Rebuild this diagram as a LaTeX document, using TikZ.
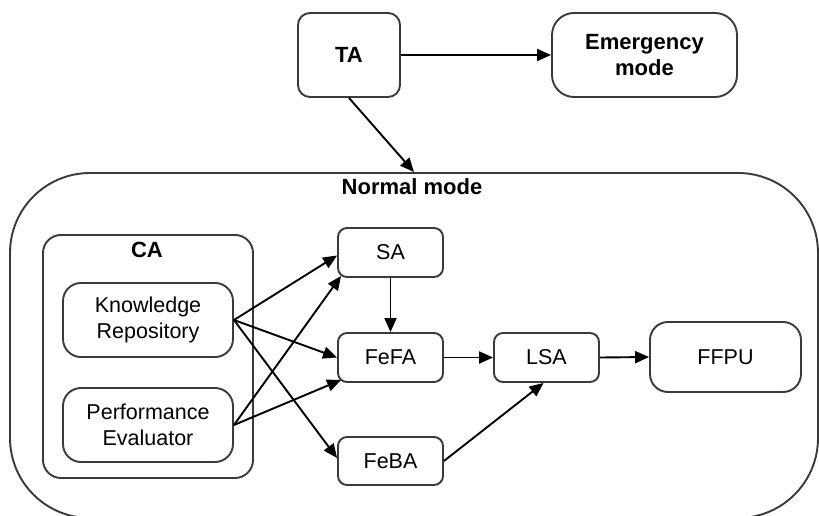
\documentclass[tikz,border=0pt]{standalone}
\usepackage{fontspec}
\setmainfont{Liberation Sans}
\usetikzlibrary{arrows.meta,calc}
\definecolor{boxgray}{HTML}{3A3A3A}
\begin{document}
\begin{tikzpicture}[x=1pt,y=-1pt,
  box/.style={draw=boxgray, line width=1.9pt, rounded corners=#1, inner sep=0pt,
              align=center, font=\fontsize{21.5}{26}\selectfont},
  box/.default=9pt,
  boldbox/.style={box=#1, font=\bfseries\fontsize{22}{26}\selectfont},
  lbl/.style={font=\bfseries\fontsize{22}{26}\selectfont, inner sep=0pt},
  link/.style={draw=black, line width=1.9pt, -{Triangle[length=14pt,width=12pt]}}]
\useasboundingbox (0,0) rectangle (819,516);
\begin{scope}
  \clip (0,0) rectangle (819,516);
  % outer container for the normal operating mode
  \node[box=80pt, minimum width=808pt, minimum height=345pt] (normal) at (414,345.5) {};
\end{scope}
\node[lbl] (normallbl) at (412,187) {Normal mode};

% top level
\node[boldbox=12pt, minimum width=102pt, minimum height=84pt] (TA) at (349,55) {TA};
\node[boldbox=22pt, minimum width=185pt, minimum height=84pt] (EM) at (644.5,55) {Emergency\\mode};

% CA group
\node[box=18pt, minimum width=210pt, minimum height=243pt] (CA) at (148,356.5) {};
\node[lbl] (CAlbl) at (147,250) {CA};
\node[box=18pt, minimum width=170pt, minimum height=74pt] (KR) at (148,320) {Knowledge\\Repository};
\node[box=18pt, minimum width=170pt, minimum height=74pt] (PE) at (148,425) {Performance\\Evaluator};

% agents
\node[box, minimum width=105pt, minimum height=49pt] (SA) at (390.5,252.5) {SA};
\node[box, minimum width=105pt, minimum height=49pt] (FeFA) at (390.5,357.5) {FeFA};
\node[box, minimum width=105pt, minimum height=48pt] (FeBA) at (390.5,461) {FeBA};
\node[box, minimum width=105pt, minimum height=49pt] (LSA) at (546.5,357.5) {LSA};
\node[box=18pt, minimum width=151pt, minimum height=70pt] (FFPU) at (725.5,357) {FFPU};

% connectors
\draw[link] (TA.east) -- (EM.west);
\draw[link] (TA.south) -- (normal.north);
\draw[link] (KR.east) -- ([yshift=-3pt]SA.west);
\draw[link] (KR.east) -- (FeFA.west);
\draw[link] (KR.east) -- ([yshift=3pt]FeBA.west);
\draw[link] (PE.east) -- ($(SA.south west)+(4,-2)$);
\draw[link] (PE.east) -- ($(FeFA.south west)+(4,-3)$);
\draw[link] (SA.south) -- (FeFA.north);
\draw[link] (FeFA.east) -- (LSA.west);
\draw[link] (FeBA.east) -- ([xshift=-3pt]LSA.south);
\draw[link] (LSA.east) -- (FFPU.west);
\end{tikzpicture}
\end{document}
